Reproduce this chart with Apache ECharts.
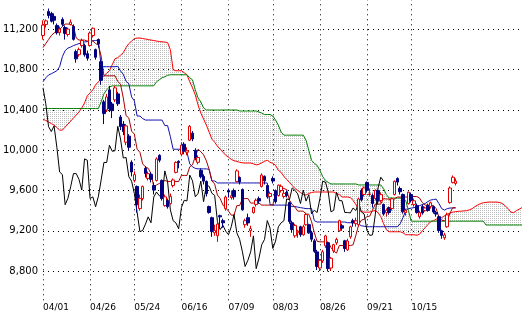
<!DOCTYPE html>
<html><head><meta charset="utf-8">
<script src="https://cdn.jsdelivr.net/npm/echarts@6/dist/echarts.min.js"></script>
<style>html,body{margin:0;padding:0;background:#fff}#c{width:522px;height:313px}</style>
</head><body><div id="c"></div>
<script>
const dates = ['04/01','04/02','04/05','04/06','04/07','04/08','04/09','04/12','04/13','04/14',
'04/15','04/16','04/19','04/20','04/21','04/22','04/23','04/26','04/27','04/28',
'04/30','05/06','05/07','05/10','05/11','05/12','05/13','05/14','05/17','05/18',
'05/19','05/20','05/21','05/24','05/25','05/26','05/27','05/28','05/31','06/01',
'06/02','06/03','06/04','06/07','06/08','06/09','06/10','06/11','06/14','06/15',
'06/16','06/17','06/18','06/21','06/22','06/23','06/24','06/25','06/28','06/29',
'06/30','07/01','07/02','07/05','07/06','07/07','07/08','07/09','07/12','07/13',
'07/14','07/15','07/16','07/20','07/21','07/22','07/23','07/26','07/27','07/28',
'07/29','07/30','08/02','08/03','08/04','08/05','08/06','08/09','08/10','08/11',
'08/12','08/13','08/16','08/17','08/18','08/19','08/20','08/23','08/24','08/25',
'08/26','08/27','08/30','08/31','09/01','09/02','09/03','09/06','09/07','09/08',
'09/09','09/10','09/13','09/14','09/15','09/16','09/17','09/21','09/22','09/24',
'09/27','09/28','09/29','09/30','10/01','10/04','10/05','10/06','10/07','10/08',
'10/12','10/13','10/14','10/15','10/18','10/19','10/20','10/21','10/22','10/25',
'10/26','10/27','10/28','10/29','11/01','11/02','11/04','11/05','11/08','11/09',
'11/10','11/11','11/12','11/15','11/16','11/17','11/18','11/19','11/22','11/24',
'11/25','11/26','11/29','11/30','12/01','12/02','12/03','12/06','12/07','12/08',
'12/09','12/10','12/13','12/14'];

const tickLabels = ['04/01','04/26','05/24','06/16','07/09','08/03','08/26','09/21','10/15'];
const yTicks = [8800, 9200, 9600, 10000, 10400, 10800, 11200];

const opens = [11140,11250,11380,11360,11330,11240,11170,11300,11220,11150,
11250,11230,10980,10950,11040,11040,10960,11040,11140,11000,
11100,10880,10480,10400,10600,10460,10500,10560,10330,10260,
10080,10140,9880,9700,9640,9420,9520,9820,9720,9760,
9650,9700,9950,9700,9450,9500,9470,9650,9780,9890,
9960,10060,9980,10100,10170,10000,9880,9800,9740,9690,
9440,9330,9180,9150,9350,9300,9420,9600,9530,9600,
9690,9730,9610,9260,9330,9200,9380,9460,9520,9640,
9740,9650,9540,9720,9600,9550,9600,9540,9580,9480,
9280,9150,9180,9240,9160,9260,9260,9180,9100,8990,
8830,8900,9050,9080,8830,9000,9080,9200,9250,9100,
9010,9140,9300,9270,9260,9600,9560,9680,9560,9550,
9520,9600,9500,9460,9380,9430,9420,9560,9720,9620,
9560,9380,9470,9560,9460,9450,9340,9440,9400,9450,
9440,9440,9380,9340,9200,9130,9240,9480,9680,9670];

const highs = [11290,11300,11408,11375,11360,11260,11230,11320,11240,11220,
11300,11250,11000,11020,11110,11060,10990,11180,11220,11010,
11110,10890,10500,10560,10640,10480,10640,10580,10350,10290,
10260,10160,9900,9790,9650,9560,9650,9840,9790,9780,
9680,9930,9960,9710,9560,9520,9570,9720,9890,9900,
10080,10080,10030,10250,10190,10020,9950,9820,9760,9700,
9450,9340,9260,9300,9360,9320,9550,9620,9600,9620,
9810,9740,9620,9320,9370,9250,9440,9520,9540,9770,
9750,9660,9590,9740,9610,9660,9660,9600,9600,9490,
9300,9270,9210,9250,9260,9380,9270,9200,9120,9010,
8920,9010,9160,9090,8940,9070,9130,9310,9270,9110,
9120,9250,9320,9330,9530,9620,9640,9690,9620,9570,
9610,9610,9580,9470,9420,9440,9530,9700,9730,9640,
9570,9420,9590,9580,9520,9470,9400,9460,9440,9470,
9490,9450,9400,9350,9210,9180,9380,9640,9750,9720];

const lows = [11100,11220,11310,11270,11250,11150,11140,11230,11100,11130,
11240,11090,10870,10930,11020,10930,10890,11030,11120,10900,
11020,10650,10260,10380,10380,10320,10480,10440,10200,10150,
10050,10000,9740,9680,9380,9400,9500,9730,9700,9680,
9560,9690,9880,9500,9440,9420,9460,9630,9770,9820,
9940,9960,9950,10090,10090,9900,9860,9720,9660,9540,
9370,9140,9150,9090,9220,9230,9400,9530,9510,9510,
9680,9660,9400,9230,9250,9140,9370,9440,9470,9630,
9660,9520,9510,9670,9470,9540,9580,9520,9530,9270,
9180,9130,9130,9140,9150,9250,9170,9090,8980,8810,
8800,8880,9030,8796,8800,8980,9060,9190,9200,8990,
9000,9120,9240,9240,9240,9490,9540,9580,9540,9430,
9500,9460,9480,9350,9340,9360,9400,9550,9650,9560,
9370,9350,9460,9480,9440,9370,9320,9360,9390,9390,
9420,9370,9340,9180,9120,9110,9230,9470,9670,9650];

const closes = [11244,11286,11339,11282,11292,11168,11204,11251,11161,11204,
11273,11102,10908,11000,11091,10949,10914,11165,11212,10924,
11057,10695,10364,10530,10411,10394,10620,10462,10235,10186,
10242,10030,9784,9758,9459,9522,9639,9768,9768,9711,
9604,9914,9901,9520,9537,9439,9542,9705,9879,9878,
10050,9990,9995,10238,10112,9923,9928,9737,9693,9570,
9382,9191,9203,9266,9338,9279,9535,9585,9548,9537,
9795,9685,9408,9300,9278,9220,9431,9503,9496,9753,
9696,9537,9570,9694,9489,9653,9642,9572,9551,9292,
9212,9253,9196,9161,9240,9362,9179,9116,8995,8845,
8906,8991,9149,8824,8927,9062,9114,9301,9226,9024,
9098,9239,9279,9299,9516,9509,9626,9602,9566,9471,
9603,9495,9559,9369,9404,9381,9518,9691,9684,9588,
9388,9403,9583,9500,9498,9382,9381,9377,9426,9401,
9478,9387,9366,9202,9154,9159,9358,9625,9732,9694];

const tenkan = [11020,11060,11100,11140,11165,11180,11200,11230,11254,11254,
11254,11232,11115,11095,11095,11095,11085,11085,11085,11060,
11045,10935,10740,10740,10740,10740,10740,10685,10655,10520,
10345,10320,10190,10160,10010,9980,9865,9835,9820,9770,
9640,9655,9670,9680,9700,9690,9690,9690,9690,9690,
9750,9750,9750,9835,9855,9940,10010,9985,9955,9895,
9810,9695,9665,9555,9520,9455,9425,9395,9355,9355,
9450,9450,9515,9520,9520,9475,9475,9475,9475,9455,
9455,9455,9455,9455,9570,9605,9620,9620,9610,9505,
9460,9435,9395,9395,9395,9365,9365,9290,9180,9095,
9090,9090,9090,9088,9033,8998,8978,9053,9053,9053,
9053,9053,9060,9155,9260,9305,9315,9340,9345,9405,
9465,9465,9465,9520,9515,9515,9480,9520,9535,9535,
9535,9535,9535,9540,9540,9540,9525,9480,9455,9455,
9455,9450,9420,9335,9305,9300,9300,9375,9430,9430];

const kijun = [10680,10720,10748,10760,10775,10790,10830,10930,10990,11015,
11026,11040,11050,11060,11066,11076,11080,11085,11088,11090,
11096,10830,10830,10830,10830,10830,10830,10834,10788,10755,
10685,10660,10530,10490,10340,10340,10315,10300,10300,10300,
10300,10300,10300,10300,10245,10245,10135,10010,10010,10010,
10010,10010,9980,9865,9835,9820,9815,9815,9815,9815,
9810,9695,9695,9675,9675,9675,9675,9675,9675,9675,
9675,9675,9675,9675,9675,9675,9675,9675,9675,9675,
9675,9675,9460,9455,9455,9455,9455,9455,9455,9455,
9440,9440,9435,9430,9425,9420,9420,9420,9300,9287,
9287,9287,9287,9287,9287,9287,9287,9287,9287,9287,
9280,9280,9280,9280,9265,9250,9245,9240,9240,9240,
9240,9240,9240,9240,9240,9240,9240,9240,9240,9270,
9330,9400,9420,9425,9430,9440,9450,9460,9470,9490,
9505,9510,9515,9470,9420,9405,9420,9426,9426,9426];

const senkouA = [10310,10295,10280,10265,10250,10225,10200,10200,10230,10260,
10290,10320,10350,10380,10420,10470,10540,10570,10600,10650,
10680,10710,10740,10765,10790,10850,10910,10920,10945,10970,
11020,11060,11085,11110,11115,11115,11110,11105,11100,11095,
11090,11085,11080,11078,11075,11070,11000,10800,10790,10790,
10790,10770,10750,10680,10620,10550,10450,10370,10310,10250,
10180,10110,10080,10040,10010,9980,9950,9930,9910,9895,
9890,9880,9875,9873,9873,9873,9865,9855,9860,9875,
9890,9900,9880,9870,9850,9800,9780,9740,9710,9680,
9650,9620,9600,9580,9560,9555,9570,9580,9585,9585,
9585,9585,9585,9585,9585,9585,9570,9560,9535,9535,
9535,9530,9500,9460,9410,9390,9385,9385,9385,9395,
9400,9380,9340,9270,9210,9190,9190,9190,9190,9190,
9180,9160,9160,9160,9160,9155,9165,9200,9230,9260,
9290,9300,9315,9325,9330,9350,9365,9375,9385,9390,
9393,9395,9397,9400,9408,9420,9440,9455,9470,9478,
9482,9485,9485,9485,9485,9480,9470,9445,9420,9385,
9380,9400,9415,9430];

const senkouB = [10415,10415,10415,10415,10415,10415,10415,10415,10415,10415,
10415,10415,10415,10415,10415,10415,10415,10415,10415,10415,
10415,10480,10560,10600,10630,10640,10640,10640,10640,10640,
10640,10640,10640,10640,10640,10640,10640,10640,10640,10640,
10640,10680,10700,10720,10730,10745,10750,10750,10750,10750,
10750,10750,10750,10720,10700,10600,10520,10480,10420,10400,
10400,10400,10400,10400,10400,10400,10400,10400,10400,10400,
10400,10390,10390,10390,10390,10390,10390,10390,10380,10370,
10355,10355,10355,10340,10300,10250,10180,10150,10150,10150,
10150,10150,10150,10150,10150,10100,10000,9900,9870,9850,
9800,9740,9700,9680,9665,9665,9665,9665,9665,9665,
9665,9665,9665,9665,9655,9655,9655,9655,9655,9655,
9655,9655,9655,9620,9560,9525,9525,9525,9525,9525,
9525,9500,9400,9295,9295,9295,9295,9295,9295,9295,
9295,9295,9295,9295,9295,9295,9295,9295,9295,9295,
9295,9295,9295,9295,9295,9295,9295,9295,9295,9295,
9257,9257,9257,9257,9257,9257,9257,9257,9257,9257,
9257,9257,9257,9257];

const CHIKOU_SHIFT = 26;

// ---- build ----
const candles = opens.map((o, i) => [o, closes[i], lows[i], highs[i]]);
const chikou = closes.slice(CHIKOU_SHIFT);
const cloudBase = senkouA.map((a, i) => Math.min(a, senkouB[i]));
const cloudBand = senkouA.map((a, i) => Math.abs(a - senkouB[i]));
const tickIdx = tickLabels.map(t => dates.indexOf(t));
const showTick = (i) => tickIdx.indexOf(i) >= 0;
const fmt = v => String(v).replace(/\B(?=(\d{3})+(?!\d))/g, ',');

const pat = document.createElement('canvas');
pat.width = 2; pat.height = 2;
const pc = pat.getContext('2d');
pc.fillStyle = '#bdbdbd';
pc.fillRect(0, 0, 1, 1);

const dotted = { color: '#000', width: 1, type: [1, 4] };
const line = (name, data, color) => ({
  name, type: 'line', data, symbol: 'none', silent: true,
  lineStyle: { width: 1, color }, z: 3
});

const chart = echarts.init(document.getElementById('c'), null, { renderer: 'canvas' });
chart.setOption({
  animation: false,
  backgroundColor: '#fff',
  grid: { left: 43, right: 0, top: -0.7, bottom: 11.8, outerBoundsMode: 'none', containLabel: false },
  xAxis: {
    type: 'category', data: dates, boundaryGap: false,
    axisLine: { show: false }, axisTick: { show: false },
    axisLabel: { interval: showTick, align: 'left', fontSize: 9, color: '#000',
      fontFamily: 'DejaVu Sans', margin: 2, showMinLabel: true, showMaxLabel: true },
    splitLine: { show: true, interval: showTick, lineStyle: dotted }
  },
  yAxis: {
    type: 'value', min: 8500, max: 11500,
    axisLine: { show: false },
    axisTick: { show: false, customValues: yTicks },
    axisLabel: { customValues: yTicks, formatter: fmt, fontSize: 10, color: '#000',
      fontFamily: 'DejaVu Sans', margin: 5 },
    splitLine: { show: true, lineStyle: dotted }
  },
  series: [
    { name: 'cloudBase', type: 'line', data: cloudBase, stack: 'cloud', symbol: 'none',
      silent: true, lineStyle: { opacity: 0 }, z: 1 },
    { name: 'cloudBand', type: 'line', data: cloudBand, stack: 'cloud', symbol: 'none',
      silent: true, lineStyle: { opacity: 0 }, z: 1,
      areaStyle: { color: { image: pat, repeat: 'repeat' }, opacity: 1 } },
    line('senkouA', senkouA, '#ff0000'),
    line('senkouB', senkouB, '#008000'),
    line('kijun', kijun, '#1010b0'),
    line('tenkan', tenkan, '#aa0000'),
    line('chikou', chikou, '#000000'),
    { name: 'price', type: 'candlestick', data: candles, barWidth: 3, z: 4,
      itemStyle: { color: '#ffffff', color0: '#000080', borderColor: '#e00000',
        borderColor0: '#000080', borderWidth: 1 } }
  ]
});
</script></body></html>
